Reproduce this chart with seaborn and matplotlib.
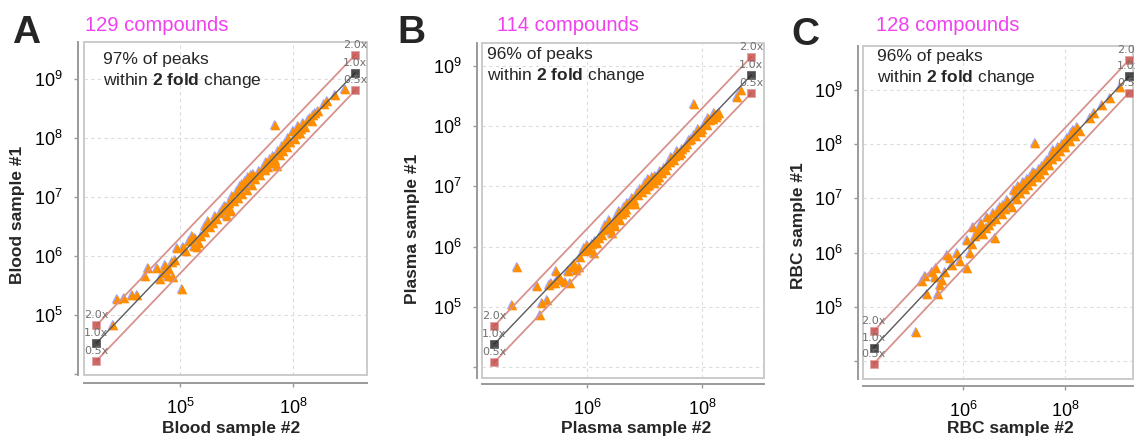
import numpy as np
import pandas as pd
import matplotlib
matplotlib.use("Agg")
import matplotlib.pyplot as plt
import matplotlib.transforms as mtransforms
from matplotlib.patches import Rectangle
from matplotlib.ticker import FixedLocator, NullLocator
import seaborn as sns

# ---------------- data (log10 intensities) ----------------
blood2_log10 = [4.82, 4.88, 5.00, 5.15, 5.24, 6.03, 5.38, 5.44, 5.59, 5.65, 5.73, 5.79, 5.85, 5.91, 5.88,
                5.95, 6.06, 6.21, 6.24, 6.30, 6.38, 6.44, 6.53, 6.62, 6.71, 6.80,
                5.70, 5.80, 6.10, 6.15, 6.27, 6.33, 6.45, 6.50, 6.58, 6.66, 6.75, 6.83, 6.77, 6.86,
                6.92, 6.95, 7.00, 7.03, 7.06, 7.10, 7.15, 7.18, 7.24, 7.27, 7.30, 7.33, 7.39, 7.42,
                7.47, 7.50, 7.53, 7.56, 7.59, 7.62, 7.65, 7.68, 7.71, 7.68, 7.74, 7.77, 7.80, 7.83,
                7.86, 7.89, 7.92, 7.95, 8.00, 8.03, 8.06, 8.09, 8.12, 8.15, 8.18, 8.22, 8.26, 8.30,
                8.33, 8.36, 8.39, 8.45, 8.55, 8.60, 8.74, 8.92, 7.10, 7.20, 7.25, 6.88, 6.90]
blood1_log10 = [4.83, 5.27, 5.28, 5.34, 5.34, 5.43, 5.66, 5.79, 5.79, 5.61, 5.85, 5.66, 5.89, 5.92, 5.64,
                6.13, 6.14, 6.34, 6.17, 6.14, 6.34, 6.51, 6.48, 6.68, 6.73, 6.84,
                5.70, 5.78, 6.08, 6.25, 6.30, 6.22, 6.40, 6.58, 6.55, 6.62, 6.78, 6.68, 6.82, 6.90,
                7.01, 6.92, 7.10, 6.98, 7.18, 7.05, 7.27, 7.12, 7.32, 7.20, 7.38, 7.30, 7.44, 7.36,
                7.49, 7.45, 7.58, 7.50, 7.63, 7.57, 7.69, 7.62, 7.52, 8.22, 7.77, 7.70, 7.86, 7.78,
                7.91, 7.84, 8.00, 7.92, 8.11, 7.98, 8.06, 8.20, 8.08, 8.15, 8.25, 8.18, 8.30, 8.34,
                8.28, 8.38, 8.42, 8.45, 8.57, 8.62, 8.73, 8.83, 7.22, 7.33, 7.36, 6.80, 6.75]

plasma2_log10 = [4.69, 4.78, 5.13, 5.18, 5.21, 5.30, 5.33, 5.37, 5.46, 5.44, 5.62, 5.70, 5.67, 5.73, 5.85,
                 5.88, 5.94, 6.05, 6.11, 6.17, 6.20, 6.31, 6.40, 6.43, 6.52, 6.57, 6.66, 6.72, 6.52,
                 6.69, 6.81, 6.86, 7.04, 7.10, 7.21, 7.30, 7.39, 7.50, 7.62, 7.70, 7.76, 7.85, 7.97,
                 8.05, 8.14, 8.23, 8.28, 7.85, 8.60, 8.67,
                 5.95, 6.00, 6.08, 6.14, 6.25, 6.28, 6.35, 6.38, 6.46, 6.48, 6.55, 6.60, 6.63, 6.68,
                 6.75, 6.78, 6.83, 6.88, 6.92, 6.95, 7.00, 7.02, 7.06, 7.08, 7.13, 7.15, 7.18, 7.25,
                 7.27, 7.33, 7.36, 7.43, 7.46, 7.53, 7.56, 7.59, 7.65, 7.73, 7.80, 7.88, 7.92, 8.00,
                 8.08, 8.10, 8.18, 8.20, 8.25, 5.50, 5.55, 5.76, 5.80]
plasma1_log10 = [5.03, 5.67, 5.35, 4.87, 5.06, 5.12, 5.37, 5.40, 5.59, 5.40, 5.42, 5.40, 5.59, 5.67, 5.67,
                 5.83, 5.92, 5.95, 5.89, 6.06, 6.14, 6.36, 6.31, 6.22, 6.53, 6.44, 6.58, 6.72, 6.50,
                 6.72, 6.78, 6.89, 7.00, 7.07, 7.11, 7.22, 7.36, 7.44, 7.55, 7.66, 7.77, 7.85, 7.91,
                 8.05, 8.10, 8.16, 8.21, 8.37, 8.49, 8.60,
                 5.98, 6.02, 6.05, 6.10, 6.20, 6.28, 6.30, 6.45, 6.40, 6.35, 6.60, 6.55, 6.66, 6.62,
                 6.70, 6.80, 6.70, 6.85, 6.95, 6.90, 7.05, 6.95, 7.12, 7.02, 7.15, 7.05, 7.18, 7.16,
                 7.25, 7.30, 7.28, 7.40, 7.48, 7.50, 7.58, 7.52, 7.62, 7.70, 7.78, 7.83, 7.95, 7.96,
                 8.02, 8.14, 8.12, 8.22, 8.19, 5.52, 5.45, 5.72, 5.62]

rbc2_log10 = [5.08, 5.19, 5.25, 5.29, 5.39, 5.48, 5.50, 5.55, 5.58, 5.65, 5.68, 5.78, 5.88, 5.94, 6.07,
              6.14, 6.07, 6.24, 6.30, 6.37, 6.46, 6.50, 6.63, 6.59, 6.69, 6.79, 6.20, 6.30, 6.73, 6.86,
              6.99, 7.08, 7.18, 7.31, 7.41, 7.54, 7.61, 7.71, 7.77, 7.87, 7.97, 8.06, 8.16, 7.41, 8.49,
              8.57, 8.72, 8.88, 9.08,
              6.40, 6.55, 6.65, 6.76, 6.82, 6.90, 6.95, 7.02, 7.05, 7.12, 7.15, 7.22, 7.25, 7.28,
              7.35, 7.38, 7.45, 7.48, 7.50, 7.58, 7.64, 7.68, 7.74, 7.80, 7.84, 7.90, 7.93, 8.00,
              8.03, 8.10, 8.12, 8.20, 8.23, 8.30, 6.18, 6.35, 6.45, 5.75, 5.45]
rbc1_log10 = [4.54, 5.47, 5.56, 5.24, 5.65, 5.71, 5.24, 5.41, 5.50, 5.65, 5.96, 5.77, 5.99, 5.84, 5.71,
              5.99, 6.23, 6.30, 6.42, 6.48, 6.66, 6.51, 6.27, 6.73, 6.79, 6.88, 6.48, 6.36, 6.85, 6.97,
              7.16, 7.22, 7.31, 7.40, 7.46, 7.59, 7.65, 7.77, 7.89, 7.95, 8.02, 8.08, 8.26, 8.03, 8.48,
              8.57, 8.72, 8.86, 9.05,
              6.35, 6.58, 6.62, 6.72, 6.80, 6.92, 6.85, 7.05, 6.98, 7.10, 7.25, 7.18, 7.35, 7.25,
              7.32, 7.48, 7.40, 7.55, 7.45, 7.52, 7.70, 7.62, 7.72, 7.82, 7.78, 7.88, 8.00, 7.95,
              8.12, 8.05, 8.20, 8.15, 8.32, 8.25, 6.15, 6.55, 6.45, 5.90, 5.55]

panel_letters = ["A", "B", "C"]
compound_counts = [129, 114, 128]
within_pct = [97, 96, 96]
x_labels = ["Blood sample #2", "Plasma sample #2", "RBC sample #2"]
y_labels = ["Blood sample #1", "Plasma sample #1", "RBC sample #1"]
x_tick_values = [[1e6, 1e8], [1e6, 1e8], [1e6, 1e8]]
x_tick_labels = [[r"$10^5$", r"$10^8$"], [r"$10^6$", r"$10^8$"], [r"$10^6$", r"$10^8$"]]
y_tick_values = [1e4, 1e5, 1e6, 1e7, 1e8, 1e9]
y_tick_labels = ["", r"$10^5$", r"$10^6$", r"$10^7$", r"$10^8$", r"$10^9$"]
ref_range_log10 = [(4.52, 9.10), (4.38, 8.85), (4.25, 9.25)]   # 1.0x line ends
fold_levels = [2.0, 1.0, 0.5]
fold_labels = ["2.0x", "1.0x", "0.5x"]

# ---------------- style ----------------
sns.set_theme(style="white")
plt.rcParams["font.family"] = ["Liberation Sans", "DejaVu Sans"]
plt.rcParams["mathtext.fontset"] = "custom"
plt.rcParams["mathtext.rm"] = "Liberation Sans"
plt.rcParams["mathtext.bf"] = "Liberation Sans:bold"
plt.rcParams["mathtext.it"] = "Liberation Sans:italic"

W, H = 1135, 437
fig = plt.figure(figsize=(W / 100, H / 100), dpi=100)

# layout in pixels: box (left, top, right, bottom), spine offsets, limits
layout = [
    dict(box=(84, 42, 367, 375), xlim=(4.30, 9.31), ylim=(3.98, 9.62), loff=6, boff=8,
         letter=(12, 43), title=(85, 31), note=(103, 52), xl=0.52, yl=0.48, ylx=18),
    dict(box=(482, 43, 764, 378), xlim=(4.17, 9.07), ylim=(3.82, 9.38), loff=5, boff=6,
         letter=(397, 43), title=(497, 31), note=(487, 47), xl=0.545, yl=0.445, ylx=413),
    dict(box=(863, 46, 1133, 379), xlim=(4.04, 9.33), ylim=(3.67, 9.81), loff=5, boff=7,
         letter=(791, 45), title=(876, 31), note=(877, 49), xl=0.545, yl=0.46, ylx=798),
]
series = [(blood2_log10, blood1_log10), (plasma2_log10, plasma1_log10), (rbc2_log10, rbc1_log10)]

fold_line_colors = {2.0: "#d8928d", 1.0: "#5a5a5a", 0.5: "#d8928d"}
fold_square_colors = {2.0: "#c4504c", 1.0: "#2b2b2b", 0.5: "#c4504c"}
px_to_pt = 72 / 100

for i, lay in enumerate(layout):
    l, t, r, b = lay["box"]
    ax = fig.add_axes([l / W, 1 - b / H, (r - l) / W, (b - t) / H])
    ax.set_xscale("log")
    ax.set_yscale("log")
    ax.set_xlim(10 ** lay["xlim"][0], 10 ** lay["xlim"][1])
    ax.set_ylim(10 ** lay["ylim"][0], 10 ** lay["ylim"][1])

    xs, ys = series[i]
    df = pd.DataFrame({"x": np.power(10.0, xs), "y": np.power(10.0, ys)})
    halo = mtransforms.offset_copy(ax.transData, fig=fig, x=-1.0, y=1.0, units="dots")
    sns.scatterplot(data=df, x="x", y="y", ax=ax, marker="^", s=48, color="#a3a9ff",
                    linewidth=0, legend=False, transform=halo, zorder=3)
    sns.scatterplot(data=df, x="x", y="y", ax=ax, marker="^", s=48, color="#ff8d00",
                    linewidth=0, legend=False, zorder=4)

    lo, hi = ref_range_log10[i]
    for fold, flabel in zip(fold_levels, fold_labels):
        ref = pd.DataFrame({"x": [10 ** lo, 10 ** hi], "y": [fold * 10 ** lo, fold * 10 ** hi]})
        sns.lineplot(data=ref, x="x", y="y", ax=ax, color=fold_line_colors[fold],
                     lw=1.3 if fold != 1.0 else 1.0, sort=False, estimator=None,
                     legend=False, zorder=5)
        sns.scatterplot(data=ref, x="x", y="y", ax=ax, marker="s", s=38,
                        color=fold_square_colors[fold], alpha=0.85, linewidth=0.6,
                        edgecolor="#e0a0a0" if fold != 1.0 else "#555555",
                        legend=False, zorder=6, clip_on=False)
        for xv, yv in zip(ref["x"], ref["y"]):
            ax.annotate(flabel, (xv, yv), xytext=(0, 5), textcoords="offset pixels",
                        ha="center", va="bottom", fontsize=8, color="#707070",
                        family="DejaVu Sans", zorder=7, annotation_clip=False)

    # grid / ticks
    ax.xaxis.set_major_locator(FixedLocator(x_tick_values[i]))
    ax.set_xticklabels(x_tick_labels[i])
    ax.yaxis.set_major_locator(FixedLocator(y_tick_values))
    ax.set_yticklabels(y_tick_labels)
    ax.xaxis.set_minor_locator(NullLocator())
    ax.yaxis.set_minor_locator(NullLocator())
    ax.grid(True, which="major", color="#dcdcdc", lw=0.8, ls=(0, (3, 3)), zorder=0)
    ax.set_axisbelow(True)

    for s in ["top", "right"]:
        ax.spines[s].set_visible(False)
    ax.spines["left"].set_position(("outward", lay["loff"] * px_to_pt))
    ax.spines["bottom"].set_position(("outward", lay["boff"] * px_to_pt))
    for s in ["left", "bottom"]:
        ax.spines[s].set_color("#9a9a9a")
        ax.spines[s].set_linewidth(1.4)
    ax.add_patch(Rectangle((0, 0), 1, 1, transform=ax.transAxes, fill=False,
                           ec="#cbcbcb", lw=1.4, clip_on=False, zorder=1))
    ax.tick_params(axis="both", which="major", length=3, width=1, color="#9a9a9a",
                   labelsize=13, labelcolor="black", direction="out", left=True, bottom=True)
    ax.tick_params(axis="y", pad=8)
    ax.tick_params(axis="x", pad=8)

    ax.set_xlabel(x_labels[i], fontsize=12.5, fontweight="bold")
    ax.set_ylabel(y_labels[i], fontsize=12.5, fontweight="bold")
    ax.xaxis.label.set_va("center")
    ax.yaxis.label.set_va("center")
    ax.xaxis.set_label_coords(lay["xl"], (b - 428) / (b - t))
    ax.yaxis.set_label_coords((lay["ylx"] - l) / (r - l), lay["yl"])

    # texts
    fig.text(lay["letter"][0] / W, 1 - lay["letter"][1] / H, panel_letters[i],
             fontsize=28, fontweight="bold", va="baseline", ha="left")
    fig.text(lay["title"][0] / W, 1 - lay["title"][1] / H, f"{compound_counts[i]} compounds",
             fontsize=14.5, color="#f040f0", va="baseline", ha="left")
    fig.text(lay["note"][0] / W, 1 - lay["note"][1] / H,
             f"{within_pct[i]}% of peaks\nwithin $\\mathbf{{2\\ fold}}$ change",
             fontsize=12.5, va="top", ha="left", linespacing=1.3, zorder=8)

fig.savefig("out.png", dpi=100)
